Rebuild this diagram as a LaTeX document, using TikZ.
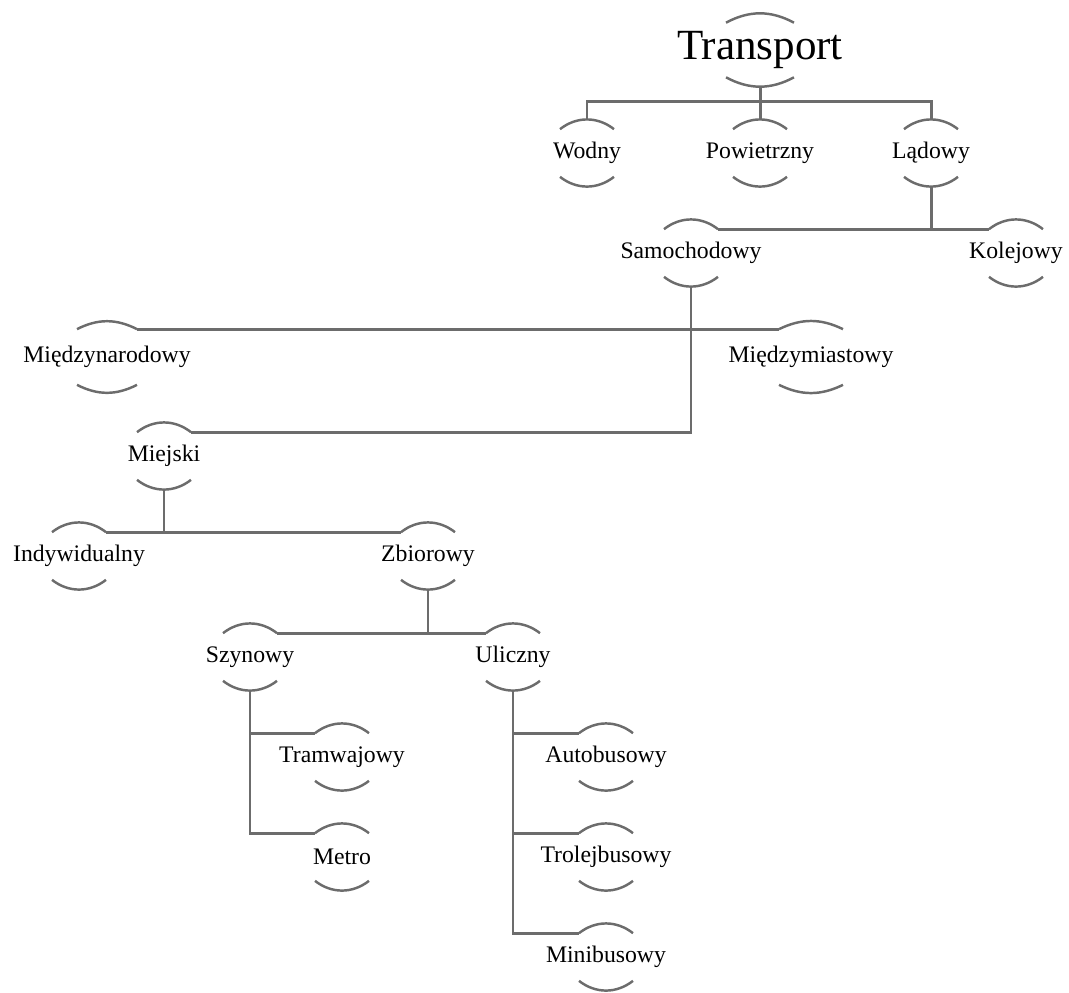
\documentclass[tikz,border=0pt]{standalone}
\usepackage{fontspec}
\setmainfont{Liberation Serif}
\definecolor{linegray}{RGB}{108,108,108}

\begin{document}
\begin{tikzpicture}[x=0.02cm,y=0.02cm,
    every node/.style={inner sep=0,minimum height=1.34cm,font=\fontsize{13.5}{16}\selectfont},
    big/.style={minimum height=1.44cm,font=\fontsize{24.5}{28}\selectfont},
    wide/.style={minimum height=1.42cm},
    conn/.style={draw=linegray,line width=1.7pt},
    arcline/.style={draw=linegray,line width=1.4pt}]
  \useasboundingbox (0,0) rectangle (1069,-992);
  \node[big] (tr) at (760,-50) {Transport};
  \node (wo) at (587,-153) {Wodny};
  \node (po) at (760,-153) {Powietrzny};
  \node (la) at (931,-153) {Lądowy};
  \node (sa) at (691,-253) {Samochodowy};
  \node (ko) at (1016,-253) {Kolejowy};
  \node[wide] (mn) at (107,-357) {Międzynarodowy};
  \node[wide] (mm) at (811,-357) {Międzymiastowy};
  \node (mi) at (164,-456) {Miejski};
  \node (ind) at (79,-556) {Indywidualny};
  \node (zb) at (428,-556) {Zbiorowy};
  \node (sz) at (250,-657) {Szynowy};
  \node (ul) at (513,-657) {Uliczny};
  \node (tw) at (342,-757) {Tramwajowy};
  \node (me) at (342,-857) {Metro};
  \node (au) at (606,-757) {Autobusowy};
  \node (trb) at (606,-857) {Trolejbusowy};
  \node (mb) at (606,-957) {Minibusowy};
  \foreach \n/\w/\s/\b in {tr/34/9/28,wo/27/10/38,po/27/10/38,la/27/10/38,sa/27/10/38,ko/27/10/38,
      mn/30/8/27,mm/32/8/26,mi/27/10/38,ind/27/10/38,zb/27/10/38,sz/27/10/38,ul/27/10/38,
      tw/27/10/38,me/27/10/38,au/27/10/38,trb/27/10/38,mb/27/10/38} {
    \coordinate (\n-tl) at ([shift={(-\w,-\s)}]\n.north);
    \coordinate (\n-tr) at ([shift={(\w,-\s)}]\n.north);
    \coordinate (\n-bl) at ([shift={(-\w,\s)}]\n.south);
    \coordinate (\n-br) at ([shift={(\w,\s)}]\n.south);
    \draw[arcline] (\n-tl) to[bend left=\b] (\n-tr);
    \draw[arcline] (\n-bl) to[bend right=\b] (\n-br);
  }
  \coordinate (trj) at (760,-101);
  \draw[conn] (tr.south) -- (trj);
  \draw[conn] (wo.north) |- (trj) -| (la.north);
  \draw[conn] (po.north) -- (po.north |- trj);
  \draw[conn] (sa-tr) -- (ko-tl);
  \draw[conn] (la.south) -- (la.south |- ko-tl);
  \draw[conn] (mn-tr) -- (mm-tl);
  \draw[conn] (sa.south) |- (mi-tr);
  \draw[conn] (mi.south) -- (mi.south |- ind-tr);
  \draw[conn] (ind-tr) -- (zb-tl);
  \draw[conn] (zb.south) -- (zb.south |- sz-tr);
  \draw[conn] (sz-tr) -- (ul-tl);
  \draw[conn] (sz.south) |- (me-tl);
  \draw[conn] (sz.south |- tw-tl) -- (tw-tl);
  \draw[conn] (ul.south) |- (mb-tl);
  \draw[conn] (ul.south |- au-tl) -- (au-tl);
  \draw[conn] (ul.south |- trb-tl) -- (trb-tl);
\end{tikzpicture}
\end{document}
